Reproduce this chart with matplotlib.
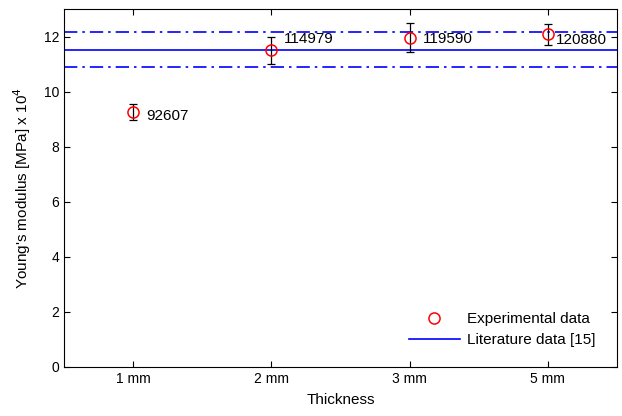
import matplotlib
matplotlib.use("Agg")
import matplotlib.pyplot as plt
import numpy as np

plt.rcParams['font.family'] = ['Liberation Sans', 'DejaVu Sans']

thickness = ["1 mm", "2 mm", "3 mm", "5 mm"]
modulus = [92607, 114979, 119590, 120880]
err = [3000, 4800, 5200, 3800]
lit_mean = 115300
lit_dev = 6500

# label positions (data coords, x10^4)
lab_x = [1.094, 2.087, 3.094, 4.058]
lab_y = [9.13, 11.93, 11.93, 11.87]

x = np.arange(1, len(thickness) + 1)
y = np.array(modulus) / 1e4
e = np.array(err) / 1e4

fig, ax = plt.subplots(figsize=(6.22, 4.16), dpi=100)
fig.subplots_adjust(left=0.103, right=0.992, top=0.978, bottom=0.118)

ax.errorbar(x, y, yerr=e, fmt='none', ecolor='black', elinewidth=0.9, capsize=3, capthick=0.9, zorder=3)
ax.plot(x, y, 'o', mfc='none', mec='red', ms=8, mew=1.1, label='Experimental data', zorder=4)
ax.axhline(lit_mean / 1e4, color='blue', lw=1.2, label='Literature data [15]')
ax.axhline((lit_mean + lit_dev) / 1e4, color='blue', lw=1.2, ls=(0, (8, 3, 1.5, 3)))
ax.axhline((lit_mean - lit_dev) / 1e4, color='blue', lw=1.2, ls=(0, (8, 3, 1.5, 3)))

for lx, ly, v in zip(lab_x, lab_y, modulus):
    ax.text(lx, ly, str(v), fontsize=11, va='center', ha='left')

ax.set_xlim(0.5, 4.5)
ax.set_ylim(0, 13)
ax.set_xticks(x)
ax.set_xticklabels(thickness)
ax.set_yticks(np.arange(0, 13, 2))
ax.tick_params(direction='in', top=True, right=True, labelsize=10, length=4)
ax.set_xlabel('Thickness', fontsize=11, labelpad=5)
ax.set_ylabel(r"Young's modulus [MPa] x 10$^4$", fontsize=11, labelpad=8)

ax.legend(loc='upper left', frameon=False, fontsize=11, handlelength=3.3,
          handletextpad=0.5, labelspacing=0.45, borderpad=0, borderaxespad=0,
          bbox_to_anchor=(0.624, 0.153))

fig.savefig("out.png", dpi=100)
